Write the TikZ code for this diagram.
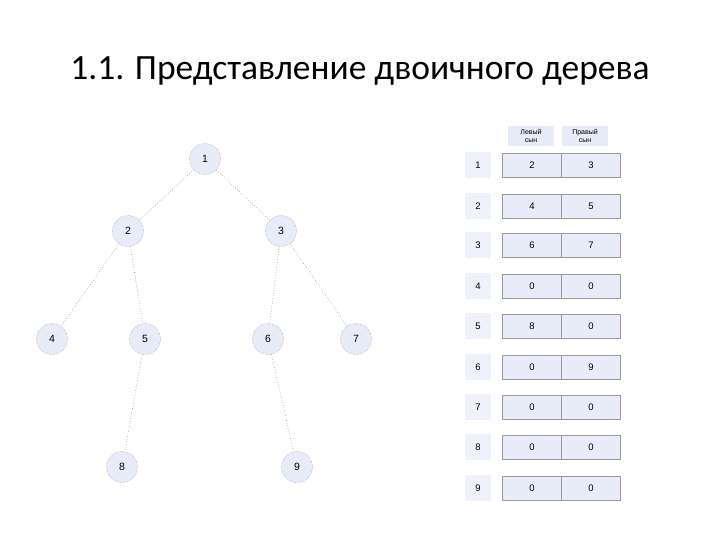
\documentclass[tikz,border=0pt]{standalone}
\usepackage{fontspec}
\setmainfont{Carlito}
\newfontfamily\arialf{Liberation Sans}
\definecolor{nodefill}{HTML}{E8ECF8}
\definecolor{edgecol}{HTML}{8C8C8C}
\definecolor{cellline}{HTML}{9A9A9A}
\begin{document}
\begin{tikzpicture}[x=1pt,y=-1pt,
  tnode/.style={circle,minimum size=31pt,inner sep=0pt,fill=nodefill,draw=edgecol,densely dotted,font=\arialf\fontsize{10.5}{12}\selectfont},
  tedge/.style={draw=edgecol,dotted,line width=0.6pt},
  cellbox/.style={rectangle,minimum width=59pt,minimum height=24pt,inner sep=0pt,fill=nodefill,draw=cellline,line width=0.5pt,font=\arialf\fontsize{9.5}{11}\selectfont},
  lblbox/.style={rectangle,minimum width=26pt,minimum height=26pt,inner sep=0pt,fill=nodefill!70,font=\arialf\fontsize{9.5}{11}\selectfont},
  hdrbox/.style={rectangle,minimum width=46pt,minimum height=20pt,inner sep=0pt,fill=nodefill,align=center,font=\arialf\fontsize{7}{7.5}\selectfont}]
\useasboundingbox (0,0) rectangle (720,540);
\node (title) at (360,71) {\fontsize{35.5}{40}\selectfont 1.1. Представление двоичного дерева};
% tree
\node[tnode] (n1) at (205,159) {1};
\node[tnode] (n2) at (128,231) {2};
\node[tnode] (n3) at (281,231) {3};
\node[tnode] (n4) at (52,339) {4};
\node[tnode] (n5) at (145,339) {5};
\node[tnode] (n6) at (268,339) {6};
\node[tnode] (n7) at (356,339) {7};
\node[tnode] (n8) at (122,467) {8};
\node[tnode] (n9) at (297,467) {9};
\draw[tedge] (n1) -- (n2);
\draw[tedge] (n1) -- (n3);
\draw[tedge] (n2) -- (n4);
\draw[tedge] (n2) -- (n5);
\draw[tedge] (n3) -- (n6);
\draw[tedge] (n3) -- (n7);
\draw[tedge] (n5) -- (n8);
\draw[tedge] (n6) -- (n9);
% table header
\node[hdrbox] (hl) at (531,136) {Левый\\сын};
\node[hdrbox] (hr) at (585,136) {Правый\\сын};
% rows
\foreach \i/\y/\l/\r in {1/165/2/3, 2/206/4/5, 3/245/6/7, 4/286/0/0, 5/326/8/0, 6/367/0/9, 7/407/0/0, 8/447/0/0, 9/488/0/0}{
  \node[lblbox] (lab\i) at (478,\y) {\i};
  \node[cellbox] (cl\i) at (532,\y) {\l};
  \node[cellbox] (cr\i) at (591,\y) {\r};
}
\end{tikzpicture}
\end{document}
